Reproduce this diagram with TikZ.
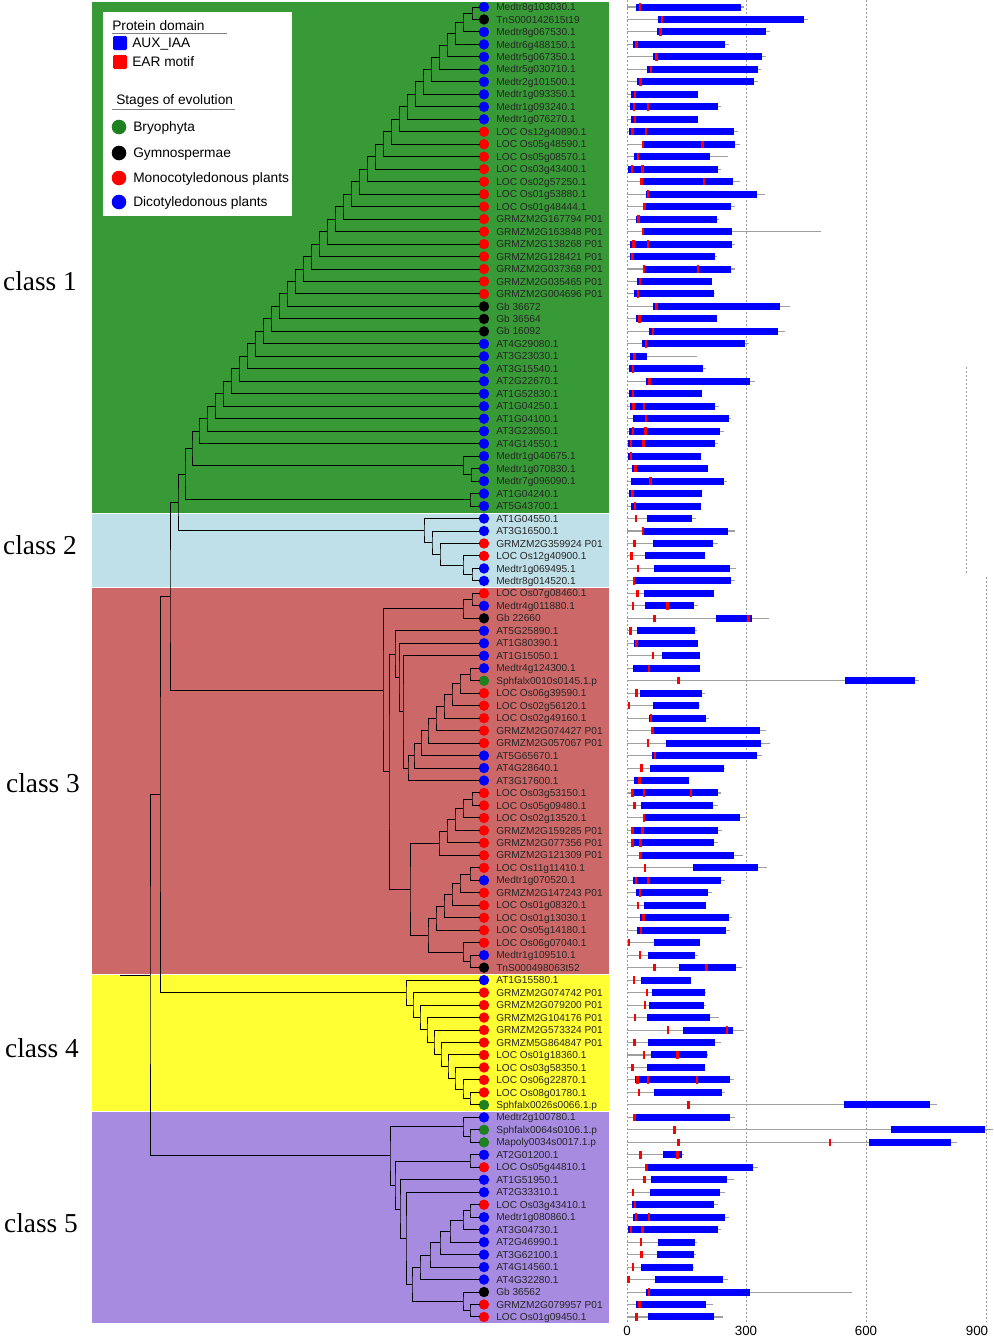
\documentclass[tikz,border=0pt]{standalone}
\usepackage{fontspec}
\setmainfont{Liberation Sans}
\newfontfamily\serifcl{Liberation Serif}
\usetikzlibrary{calc}
\definecolor{cgreen}{RGB}{56,154,54}
\definecolor{cblue}{RGB}{191,224,232}
\definecolor{cred}{RGB}{205,104,104}
\definecolor{cyel}{RGB}{255,255,51}
\definecolor{cpur}{RGB}{166,139,224}
\definecolor{db}{RGB}{0,0,255}
\definecolor{rd}{RGB}{255,0,0}
\definecolor{bk}{RGB}{0,0,0}
\definecolor{gn}{RGB}{30,128,30}
\newcommand\jn[4]{%
  \coordinate (#1x) at (#2,0);
  \coordinate (#1m) at ($(#3)!.5!(#4)$);
  \coordinate (#1) at (#1m -| #1x);
  \draw[tree] (#3) -| (#1) |- (#4);
}
\begin{document}
\begin{tikzpicture}[x=0.75pt,y=-0.75pt,
  tree/.style={line width=0.75pt,black},
  gline/.style={line width=0.8pt,gray!75},
  grid/.style={gray!80,line width=0.7pt,dash pattern=on 1.5pt off 1.5pt},
  leaflab/.style={anchor=base west,inner sep=0pt,font=\fontsize{7.6}{8}\selectfont,text=black!85},
  lg/.style={anchor=base west,inner sep=0pt,font=\fontsize{10.3}{12}\selectfont},
  cls/.style={font=\serifcl\fontsize{20.5}{24}\selectfont},
  ax/.style={font=\fontsize{10}{12}\selectfont}]
\useasboundingbox (0,0) rectangle (993,1339);
\fill[white] (0,0) rectangle (993,1339);
% class backgrounds
\fill[cgreen] (92,2) rectangle (609,512.5);
\fill[cblue] (92,513.5) rectangle (609,587);
\fill[cred] (92,588) rectangle (609,974);
\fill[cyel] (92,975) rectangle (609,1111);
\fill[cpur] (92,1112) rectangle (609,1323);
% class labels
\node[cls] at (40,281) {class 1};
\node[cls] at (40,545) {class 2};
\node[cls] at (43,783) {class 3};
\node[cls] at (42,1048) {class 4};
\node[cls] at (41,1223) {class 5};
% legend
\fill[white] (103,12) rectangle (292,216);
\node[lg] at (112,30.5) {Protein domain};
\draw[gray,line width=0.5pt] (112,33) -- (227,33);
\fill[db,rounded corners=1pt] (113,36) rectangle (127,50);
\node[lg] at (132,47.5) {AUX\_IAA};
\fill[rd,rounded corners=1pt] (113,55) rectangle (127,69);
\node[lg] at (132,66.5) {EAR motif};
\node[lg] at (116,104.5) {Stages of evolution};
\draw[gray,line width=0.5pt] (112,109) -- (235,109);
\fill[gn] (119,127) circle (7.3);
\node[lg] at (133,131.5) {Bryophyta};
\fill[bk] (119,153) circle (7.3);
\node[lg] at (133,157.5) {Gymnospermae};
\fill[rd] (119,178) circle (7.3);
\node[lg] at (133,182.5) {Monocotyledonous plants};
\fill[db] (119,202) circle (7.3);
\node[lg] at (133,206.5) {Dicotyledonous plants};
% leaves
\foreach \k/\lab/\col in {1/Medtr8g103030.1/db,2/TnS000142615t19/bk,3/Medtr8g067530.1/db,4/Medtr6g488150.1/db,5/Medtr5g067350.1/db,6/Medtr5g030710.1/db,7/Medtr2g101500.1/db,8/Medtr1g093350.1/db,9/Medtr1g093240.1/db,10/Medtr1g076270.1/db,
11/LOC Os12g40890.1/rd,12/LOC Os05g48590.1/rd,13/LOC Os05g08570.1/rd,14/LOC Os03g43400.1/rd,15/LOC Os02g57250.1/rd,16/LOC Os01g53880.1/rd,17/LOC Os01g48444.1/rd,18/GRMZM2G167794 P01/rd,19/GRMZM2G163848 P01/rd,20/GRMZM2G138268 P01/rd,
21/GRMZM2G128421 P01/rd,22/GRMZM2G037368 P01/rd,23/GRMZM2G035465 P01/rd,24/GRMZM2G004696 P01/rd,25/Gb 36672/bk,26/Gb 36564/bk,27/Gb 16092/bk,28/AT4G29080.1/db,29/AT3G23030.1/db,30/AT3G15540.1/db,
31/AT2G22670.1/db,32/AT1G52830.1/db,33/AT1G04250.1/db,34/AT1G04100.1/db,35/AT3G23050.1/db,36/AT4G14550.1/db,37/Medtr1g040675.1/db,38/Medtr1g070830.1/db,39/Medtr7g096090.1/db,40/AT1G04240.1/db,
41/AT5G43700.1/db,42/AT1G04550.1/db,43/AT3G16500.1/db,44/GRMZM2G359924 P01/rd,45/LOC Os12g40900.1/rd,46/Medtr1g069495.1/db,47/Medtr8g014520.1/db,48/LOC Os07g08460.1/rd,49/Medtr4g011880.1/db,50/Gb 22660/bk,
51/AT5G25890.1/db,52/AT1G80390.1/db,53/AT1G15050.1/db,54/Medtr4g124300.1/db,55/Sphfalx0010s0145.1.p/gn,56/LOC Os06g39590.1/rd,57/LOC Os02g56120.1/rd,58/LOC Os02g49160.1/rd,59/GRMZM2G074427 P01/rd,60/GRMZM2G057067 P01/rd,
61/AT5G65670.1/db,62/AT4G28640.1/db,63/AT3G17600.1/db,64/LOC Os03g53150.1/rd,65/LOC Os05g09480.1/rd,66/LOC Os02g13520.1/rd,67/GRMZM2G159285 P01/rd,68/GRMZM2G077356 P01/rd,69/GRMZM2G121309 P01/rd,70/LOC Os11g11410.1/rd,
71/Medtr1g070520.1/db,72/GRMZM2G147243 P01/rd,73/LOC Os01g08320.1/rd,74/LOC Os01g13030.1/rd,75/LOC Os05g14180.1/rd,76/LOC Os06g07040.1/rd,77/Medtr1g109510.1/db,78/TnS000498063t52/bk,79/AT1G15580.1/db,80/GRMZM2G074742 P01/rd,
81/GRMZM2G079200 P01/rd,82/GRMZM2G104176 P01/rd,83/GRMZM2G573324 P01/rd,84/GRMZM5G864847 P01/rd,85/LOC Os01g18360.1/rd,86/LOC Os03g58350.1/rd,87/LOC Os06g22870.1/rd,88/LOC Os08g01780.1/rd,89/Sphfalx0026s0066.1.p/gn,90/Medtr2g100780.1/db,
91/Sphfalx0064s0106.1.p/gn,92/Mapoly0034s0017.1.p/gn,93/AT2G01200.1/db,94/LOC Os05g44810.1/rd,95/AT1G51950.1/db,96/AT2G33310.1/db,97/LOC Os03g43410.1/rd,98/Medtr1g080860.1/db,99/AT3G04730.1/db,100/AT2G46990.1/db,
101/AT3G62100.1/db,102/AT4G14560.1/db,103/AT4G32280.1/db,104/Gb 36562/bk,105/GRMZM2G079957 P01/rd,106/LOC Os01g09450.1/rd}{
  \pgfmathsetmacro\yy{7+(\k-1)*12.476}
  \coordinate (L\k) at (480,\yy);
  \fill[\col] (484,\yy) circle (5.2);
  \node[leaflab] (T\k) at (496,{\yy+3.6}) {\lab};
}
% ---- tree: class 1
\jn{a2}{472}{L1}{L2}
\jn{a3}{463}{a2}{L3}
\foreach \k in {4,...,36}{\pgfmathtruncatemacro\km{\k-1}\pgfmathsetmacro\xx{463-(\k-3)*8}\jn{a\k}{\xx}{a\km}{L\k}}
\jn{m1}{471}{L38}{L39}
\jn{m2}{463}{L37}{m1}
\jn{a37}{192}{a36}{m2}
\jn{p1}{470}{L40}{L41}
\jn{c1}{185}{a37}{p1}
% class 2
\jn{b1}{472}{L46}{L47}
\jn{b2}{463}{L45}{b1}
\jn{b3}{440}{L44}{b2}
\jn{b4}{432}{L43}{b3}
\jn{b5}{424}{L42}{b4}
\jn{c12}{178}{c1}{b5}
% class 3
\jn{d1}{472}{L48}{L49}
\jn{d2}{463}{d1}{L50}
\jn{e1}{470}{L54}{L55}
\jn{e2}{460}{e1}{L56}
\jn{e3}{452}{e2}{L57}
\jn{e4}{444}{e3}{L58}
\jn{e5}{436}{e4}{L59}
\jn{e6}{428}{e5}{L60}
\jn{e7}{421}{e6}{L61}
\jn{e8}{414}{e7}{L62}
\jn{e9}{408}{e8}{L63}
\jn{u1}{403}{L53}{e9}
\jn{u2}{399}{L52}{u1}
\jn{u3}{395}{L51}{u2}
\jn{g1}{472}{L64}{L65}
\jn{g2}{463}{g1}{L66}
\jn{g3}{455}{g2}{L67}
\jn{g4}{447}{g3}{L68}
\jn{g5}{439}{g4}{L69}
\jn{h1}{470}{L70}{L71}
\jn{h2}{460}{h1}{L72}
\jn{h3}{452}{h2}{L73}
\jn{h4}{444}{h3}{L74}
\jn{h5}{436}{h4}{L75}
\jn{i1}{470}{L77}{L78}
\jn{i2}{463}{L76}{i1}
\jn{h6}{428}{h5}{i2}
\jn{g6}{410}{g5}{h6}
\jn{r3}{389}{u3}{g6}
\jn{c3}{383}{d2}{r3}
% class 4
\jn{k1}{470}{L88}{L89}
\jn{k2}{463}{L87}{k1}
\jn{k3}{455}{L86}{k2}
\jn{k4}{448}{L85}{k3}
\jn{k5}{441}{L84}{k4}
\jn{k6}{434}{L83}{k5}
\jn{k7}{427}{L82}{k6}
\jn{k8}{420}{L81}{k7}
\jn{k9}{413}{L80}{k8}
\jn{c4}{406}{L79}{k9}
% class 5
\jn{q1}{470}{L91}{L92}
\jn{q2}{463}{L90}{q1}
\jn{q3}{470}{L93}{L94}
\jn{q4}{470}{L97}{L98}
\jn{q5}{463}{q4}{L99}
\jn{q6}{470}{L105}{L106}
\jn{q7}{463}{L104}{q6}
\jn{s1}{450}{q5}{L100}
\jn{s2}{440}{s1}{L101}
\jn{s3}{430}{s2}{L102}
\jn{s4}{420}{s3}{L103}
\jn{s5}{412}{s4}{q7}
\jn{s6}{406}{L96}{s5}
\jn{s7}{400}{L95}{s6}
\jn{s8}{395}{q3}{s7}
\jn{c5}{390}{q2}{s8}
% top level
\jn{t1}{170}{c12}{c3}
\jn{t2}{160}{t1}{c4}
\jn{t3}{150}{t2}{c5}
\coordinate (rootx) at (120,0);
\draw[tree] (t3) -- (t3 -| rootx);
% ---- domain panel
\foreach \gx in {627,746,866}{\draw[grid] (\gx,0) -- (\gx,1322);}
\draw[grid] (966,367) -- (966,573);
\draw[grid] (986,577) -- (986,1322);
\foreach \k/\L/\bs/\be/\reds in {1/292/23/285/{32},2/452/78/443/{87},3/357/74/347/{83},4/255/15/246/{23},5/347/65/338/{73},6/335/51/327/{60},7/327/25/318/{33},8/177/11/177/{20},9/236/8/228/{17,52},10/177/11/177/{20},
11/277/5/268/{13,47},12/282/37/271/{40,189},13/252/18/208/{27},14/234/3/227/{12,39},15/282/33/265/{36,192},16/344/48/325/{52},17/271/42/261/{44},18/231/22/225/{28},19/486/37/262/{40},20/269/8/262/{16,52},
21/225/8/221/{14},22/269/39/259/{42,177},23/213/26/213/{32},24/219/18/217/{27},25/407/66/383/{74},26/224/22/224/{31},27/396/56/377/{65},28/304/38/295/{47},29/175/8/51/{18},30/197/6/189/{15},
31/319/47/308/{56},32/187/6/187/{15},33/229/7/220/{16,42},34/261/15/255/{47},35/242/6/233/{15,46},36/228/2/219/{10,41},37/184/2/184/{10},38/202/12/202/{21},39/250/11/242/{58},40/187/5/187/{14},
41/185/11/184/{20},42/172/51/162/{22},43/269/38/252/{40},44/228/65/214/{18},45/194/45/194/{11},46/273/67/258/{27},47/271/16/260/{17},48/218/43/218/{26},49/178/45/168/{15,101},50/356/222/313/{69,304},
51/176/26/169/{9},52/178/18/178/{23},53/183/87/183/{65},54/183/16/183/{55},55/729/544/720/{129},56/194/33/188/{24},57/182/65/181/{5},58/205/54/198/{60},59/347/59/332/{63},60/357/97/336/{52},
61/337/62/325/{70},62/244/57/242/{36},63/156/18/154/{31},64/236/10/228/{13,42,160},65/228/36/214/{18},66/300/39/283/{42},67/237/10/228/{13,38},68/228/10/218/{13,33},69/289/32/267/{34},70/350/166/327/{45},
71/245/15/236/{22,54},72/213/23/203/{32},73/198/42/197/{27},74/262/33/254/{41},75/257/26/248/{35},76/183/67/183/{5},77/178/52/169/{32},78/287/130/273/{68,198},79/161/36/161/{17},80/197/63/195/{50},
81/198/54/193/{45},82/229/50/208/{20},83/292/139/264/{102,250},84/234/53/219/{18},85/202/60/200/{42,126},86/196/49/196/{14},87/268/21/258/{26,52,175},88/246/67/237/{30},89/775/543/758/{154},90/271/17/257/{19},
91/915/660/896/{118},92/825/604/810/{129,507},93/142/90/138/{33,126},94/328/48/315/{48},95/267/60/250/{43},96/246/58/232/{15},97/227/12/218/{20},98/254/14/244/{22,55},99/236/2/228/{10,39},100/175/77/170/{35},
101/173/74/168/{36},102/168/35/164/{15},103/252/70/240/{4},104/563/48/307/{55},105/215/23/198/{31},106/239/53/218/{23}}{
  \pgfmathsetmacro\yy{7+(\k-1)*12.476}
  \draw[gline] (627,\yy) -- ({627+0.4*\L},\yy);
  \fill[db] ({627+0.4*\bs},{\yy-3.5}) rectangle ({627+0.4*\be},{\yy+3.5});
  \foreach \r in \reds {\fill[rd] ({627+0.4*\r-1.3},{\yy-3.7}) rectangle ({627+0.4*\r+1.3},{\yy+3.7});}
}
\node[ax] at (627,1331) {0};
\node[ax] at (746,1331) {300};
\node[ax] at (866,1331) {600};
\node[ax] at (977,1331) {900};
\end{tikzpicture}
\end{document}
